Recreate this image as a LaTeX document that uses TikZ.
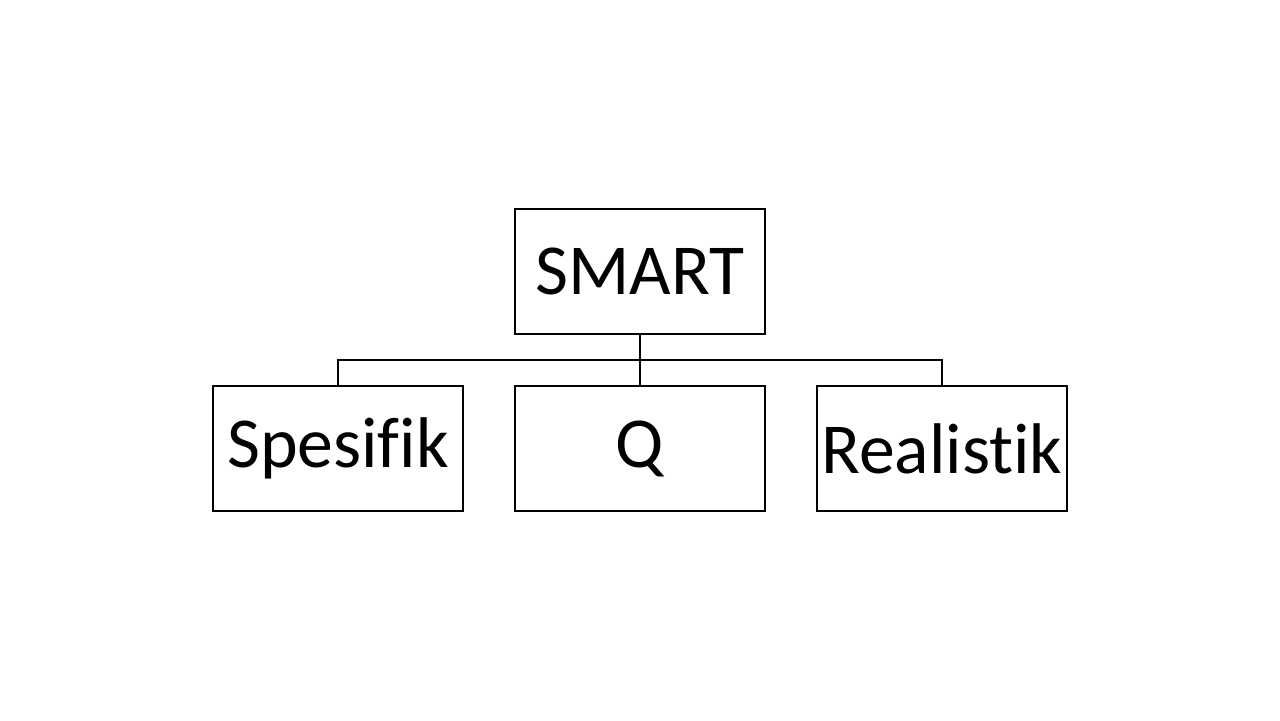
\documentclass[tikz,border=0pt]{standalone}
\usepackage{fontspec}
\setmainfont{Carlito}[Ligatures={NoCommon}]
\begin{document}
\begin{tikzpicture}[x=0.01cm,y=-0.01cm,
  box/.style={draw=black,line width=0.35pt,minimum width=2.5cm,minimum height=1.25cm,inner sep=0pt,font=\fontsize{20.4}{24}\selectfont},
  conn/.style={draw=black,line width=0.35pt}]
\useasboundingbox (0,0) rectangle (1280,720);
\node[box] (top) at (640,271.5) {SMART};
\node[box] (s) at (338,448.5) {Spesifik};
\node[box] (q) at (640,448.5) {Q};
\node[box] (r) at (942,448.5) {Realistik};
\coordinate (bar) at (640,360);
\draw[conn] (top.south) -- (q.north);
\draw[conn] (s.north) |- (bar) -| (r.north);
\end{tikzpicture}
\end{document}
